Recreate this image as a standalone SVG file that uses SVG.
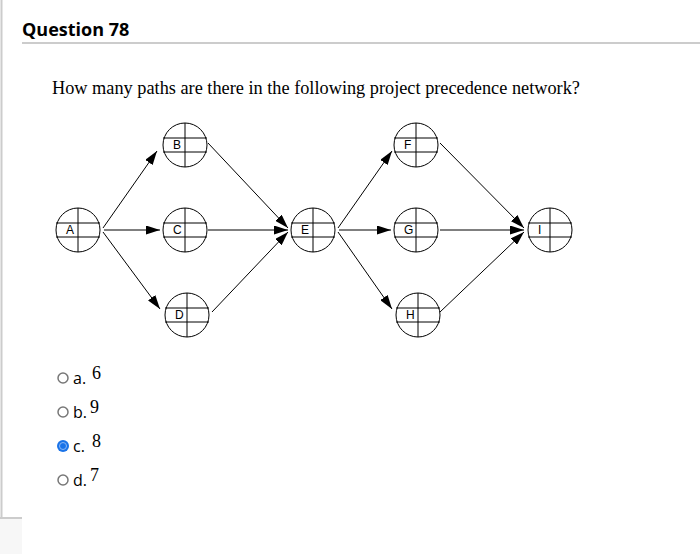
<svg xmlns="http://www.w3.org/2000/svg" width="700" height="554" viewBox="0 0 700 554">
<style>
.n text{font-family:"Liberation Sans",Arial,sans-serif;font-size:12px;fill:#000}
.e{stroke:#000;stroke-width:1;fill:none;marker-end:url(#ah)}
.opt{font-family:"Open Sans",sans-serif;font-size:16px;fill:#000}
.val{font-family:"Liberation Serif",serif;font-size:18px;fill:#000}
.r{fill:#fff;stroke:#777;stroke-width:1.5}
</style>
<defs>
<marker id="ah" viewBox="0 0 14 9" refX="14" refY="4.5" markerWidth="14" markerHeight="9" markerUnits="userSpaceOnUse" orient="auto"><path d="M0,0L14,4.5L0,9z" fill="#000"/></marker>
<g id="nd" fill="#fff" stroke="#000" stroke-width="1"><circle r="22"/><line x1="-22" y1="-7" x2="22" y2="-7"/><line x1="-22" y1="7" x2="22" y2="7"/><line x1="0" y1="-22" x2="0" y2="22"/></g>
</defs>
<rect width="700" height="554" fill="#fff"/>
<line x1="1.5" y1="0" x2="1.5" y2="518" stroke="#ccc" stroke-width="2"/>
<line x1="0" y1="518" x2="22" y2="518" stroke="#ccc" stroke-width="2"/>
<rect x="0" y="519" width="22" height="35" fill="#f7f7f7"/>
<text x="22" y="36" font-family="'Open Sans',sans-serif" font-weight="bold" font-size="18">Question 78</text>
<line x1="22" y1="43" x2="700" y2="43" stroke="#ccc" stroke-width="2"/>
<text x="52" y="94" font-family="'Liberation Serif',serif" font-size="18.3">How many paths are there in the following project precedence network?</text>
<g id="edges">
<line class="e" x1="103" y1="228" x2="157" y2="151"/>
<line class="e" x1="104" y1="230" x2="160" y2="230"/>
<line class="e" x1="103" y1="232" x2="160" y2="309"/>
<line class="e" x1="208" y1="143" x2="288" y2="228"/>
<line class="e" x1="208" y1="230" x2="288" y2="230"/>
<line class="e" x1="212" y1="312" x2="288" y2="232"/>
<line class="e" x1="338" y1="228" x2="392" y2="151"/>
<line class="e" x1="339" y1="230" x2="391" y2="230"/>
<line class="e" x1="338" y1="232" x2="392" y2="309"/>
<line class="e" x1="440" y1="143" x2="524" y2="228"/>
<line class="e" x1="440" y1="230" x2="524" y2="230"/>
<line class="e" x1="440" y1="312" x2="524" y2="232"/>
</g>
<g id="A" class="n" transform="translate(78,230)"><use href="#nd"/><text x="-12" y="4">A</text></g>
<g id="B" class="n" transform="translate(185,145)"><use href="#nd"/><text x="-12" y="4">B</text></g>
<g id="C" class="n" transform="translate(185,230)"><use href="#nd"/><text x="-12" y="4">C</text></g>
<g id="D" class="n" transform="translate(187,315)"><use href="#nd"/><text x="-12" y="4">D</text></g>
<g id="E" class="n" transform="translate(313,230)"><use href="#nd"/><text x="-12" y="4">E</text></g>
<g id="F" class="n" transform="translate(416,145)"><use href="#nd"/><text x="-12" y="4">F</text></g>
<g id="G" class="n" transform="translate(416,230)"><use href="#nd"/><text x="-12" y="4">G</text></g>
<g id="H" class="n" transform="translate(418,315)"><use href="#nd"/><text x="-12" y="4">H</text></g>
<g id="I" class="n" transform="translate(550,230)"><use href="#nd"/><text x="-12" y="4">I</text></g>
<circle class="r" cx="63" cy="378" r="5"/><text class="opt" x="73" y="384">a.</text><text class="val" x="92" y="379">6</text>
<circle class="r" cx="63" cy="412" r="5"/><text class="opt" x="73" y="418">b.</text><text class="val" x="90" y="413">9</text>
<circle cx="63" cy="446" r="6" fill="#1a73e8"/><circle cx="63" cy="446" r="3.5" fill="none" stroke="#8cb8f5" stroke-width="1"/><text class="opt" x="73" y="452">c.</text><text class="val" x="92" y="447">8</text>
<circle class="r" cx="63" cy="480" r="5"/><text class="opt" x="73" y="486">d.</text><text class="val" x="90" y="481">7</text>
</svg>
